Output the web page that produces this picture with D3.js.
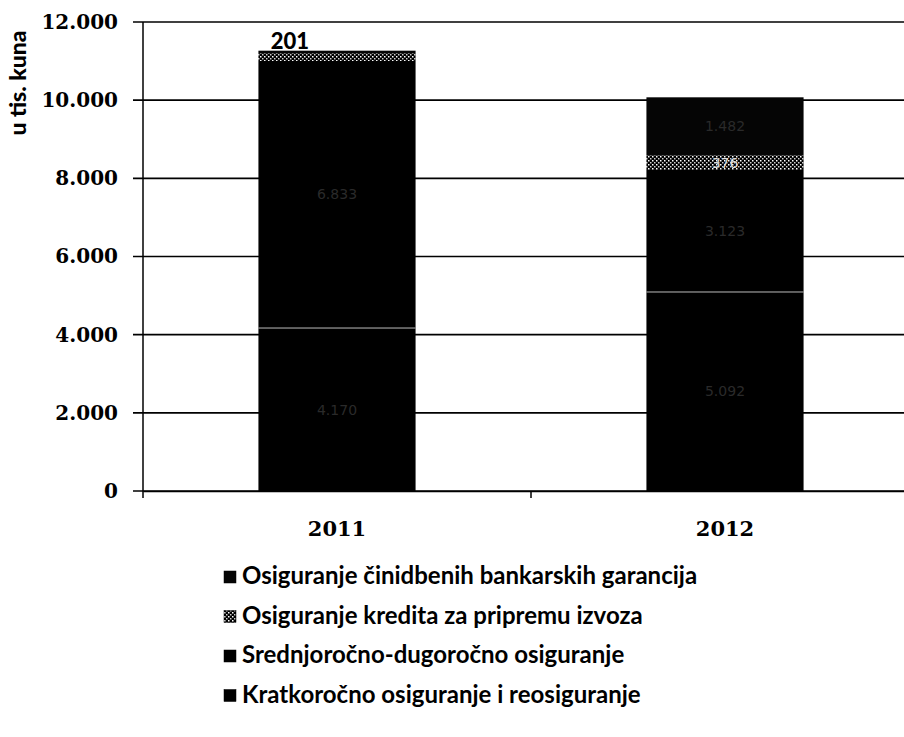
<!DOCTYPE html>
<html><head><meta charset="utf-8">
<script src="https://cdn.jsdelivr.net/npm/d3@7/dist/d3.min.js"></script>
<style>body{margin:0;background:#fff;}svg{display:block;}</style>
</head><body><svg id="c" width="904" height="737"></svg>
<script>
const years = ["2011", "2012"];
const seriesNames = [
  "Kratkoročno osiguranje i reosiguranje",
  "Srednjoročno-dugoročno osiguranje",
  "Osiguranje kredita za pripremu izvoza",
  "Osiguranje činidbenih bankarskih garancija"
];
const kratkorocno = [4170, 5092];
const srednjorocno = [6833, 3123];
const kreditaIzvoz = [201, 376];
const cinidbenih = [62, 1482];
const yTicks = [0, 2000, 4000, 6000, 8000, 10000, 12000];
const yTitle = "u tis. kuna";

const svg = d3.select("#c");
const defs = svg.append("defs");
const pat = defs.append("pattern").attr("id","dots").attr("width",4).attr("height",4).attr("patternUnits","userSpaceOnUse");
pat.append("rect").attr("width",4).attr("height",4).attr("fill","#000");
pat.append("rect").attr("x",0).attr("y",0).attr("width",1.5).attr("height",1.5).attr("fill","#fff");
pat.append("rect").attr("x",2).attr("y",2).attr("width",1.5).attr("height",1.5).attr("fill","#ccc");

const colors = ["#000", "#000", "url(#dots)", "#050505"];

const x = d3.scaleBand().domain(years).range([143, 919]).paddingInner(0.595).paddingOuter(0.2975);
const y = d3.scaleLinear().domain([0, 12000]).range([491, 22]);

const fmt = v => d3.format(",")(v).replace(/,/g, ".");

// gridlines
svg.append("g").selectAll("line").data(yTicks).join("line")
  .attr("x1", 133).attr("x2", 904)
  .attr("y1", d => y(d)).attr("y2", d => y(d))
  .attr("stroke", "#000").attr("stroke-width", 1.6);

// y axis
const yAxis = svg.append("g").attr("transform","translate(143,0)")
  .call(d3.axisLeft(y).tickValues(yTicks).tickSize(0).tickPadding(25).tickFormat(fmt));
yAxis.select(".domain").remove();
yAxis.selectAll("text").attr("font-family","DejaVu Serif").attr("font-weight","bold")
  .attr("font-size", 20).attr("fill","#000");
svg.append("line").attr("x1",143).attr("x2",143).attr("y1",22).attr("y2",498)
  .attr("stroke","#000").attr("stroke-width",1.5);

// x axis
const xAxis = svg.append("g").attr("transform","translate(0,491)")
  .call(d3.axisBottom(x).tickSize(0).tickPadding(30));
xAxis.select(".domain").attr("stroke","#000").attr("stroke-width",1.6);
xAxis.selectAll("text").attr("font-family","DejaVu Serif").attr("font-weight","bold")
  .attr("font-size", 21).attr("fill","#000");
// category boundary tick
svg.append("line").attr("x1", x("2012") - x.step()*x.paddingInner()/2 ).attr("x2", x("2012") - x.step()*x.paddingInner()/2)
  .attr("y1",491).attr("y2",498).attr("stroke","#000").attr("stroke-width",1.5);

// stacks
const rows = years.map((yr,i)=>({year:yr, s0:kratkorocno[i], s1:srednjorocno[i], s2:kreditaIzvoz[i], s3:cinidbenih[i]}));
const stack = d3.stack().keys(["s0","s1","s2","s3"])(rows);

const g = svg.append("g");
stack.forEach((layer, li) => {
  g.append("g").selectAll("rect").data(layer).join("rect")
    .attr("x", d => x(d.data.year))
    .attr("width", x.bandwidth())
    .attr("y", d => y(d[1]))
    .attr("height", d => y(d[0]) - y(d[1]))
    .attr("fill", colors[li]);
});
g.selectAll(".sep").data(stack[0]).join("line")
  .attr("x1", d => x(d.data.year)).attr("x2", d => x(d.data.year)+x.bandwidth())
  .attr("y1", d => y(d[1])).attr("y2", d => y(d[1]))
  .attr("stroke","#bbb").attr("stroke-width",1);

// data labels (faint, as in scanned original)
stack.forEach((layer, li) => {
  layer.forEach((d, i) => {
    const h = y(d[0]) - y(d[1]);
    const v = d[1]-d[0];
    if (li === 2 && i === 0) {
      svg.append("text").attr("x", x(d.data.year)+x.bandwidth()*0.2).attr("y", y(d[1]) - 4)
        .attr("text-anchor","middle").attr("font-family","Lato").attr("font-weight","900")
        .attr("font-size",22).attr("fill","#000").text(fmt(v));
      return;
    }
    if (h < 12) return;
    svg.append("text").attr("x", x(d.data.year)+x.bandwidth()/2).attr("y", (y(d[0])+y(d[1]))/2 + 5)
      .attr("text-anchor","middle").attr("font-family","DejaVu Sans")
      .attr("font-size",14).attr("fill", li===2 ? "#ddd" : "#2a2a2a").text(fmt(v));
  });
});

// y title
svg.append("text").attr("transform","translate(26,83) rotate(-90)")
  .attr("text-anchor","middle").attr("font-family","Lato").attr("font-weight","900")
  .attr("font-size",23).attr("fill","#000").text(yTitle);

// legend
const legendOrder = [3,2,1,0];
const lg = svg.append("g");
legendOrder.forEach((si, k) => {
  const yy = 577 + k*39.5;
  lg.append("rect").attr("x",224).attr("y",yy-6).attr("width",12).attr("height",12)
    .attr("fill", colors[si]).attr("stroke","#000").attr("stroke-width",0.5);
  lg.append("text").attr("x",242).attr("y",yy+7).attr("font-family","Lato").attr("font-weight","bold")
    .attr("font-size",24).attr("fill","#000").text(seriesNames[si]);
});
</script></body></html>
